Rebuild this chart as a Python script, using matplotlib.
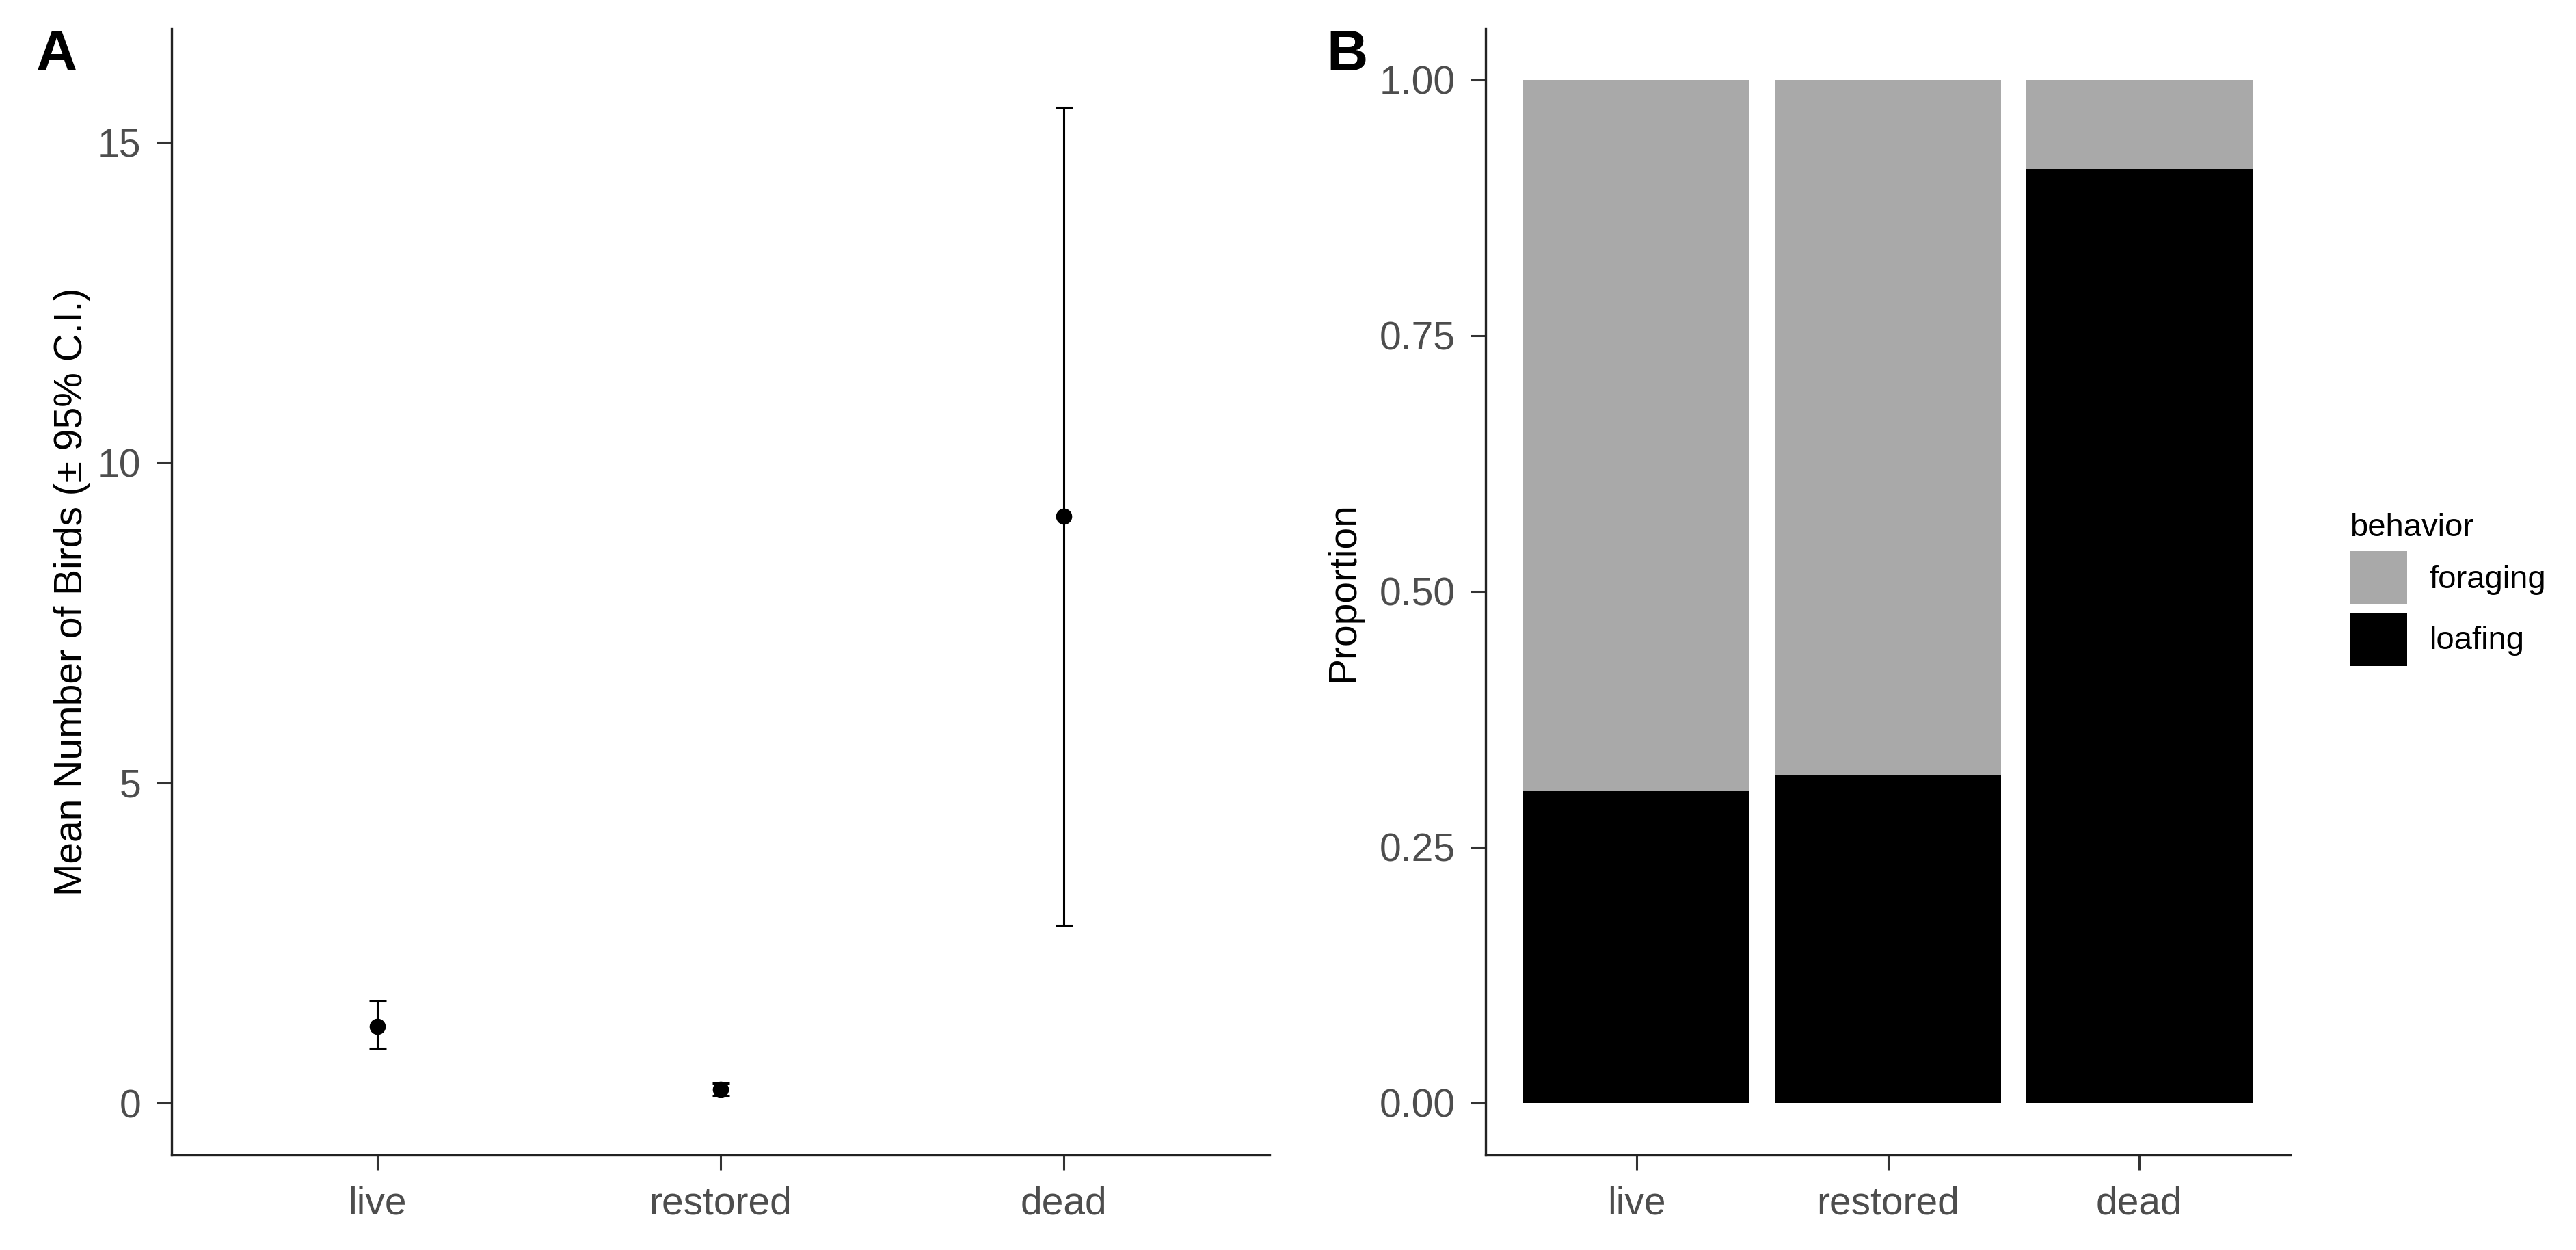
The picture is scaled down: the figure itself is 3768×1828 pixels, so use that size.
import matplotlib
matplotlib.use("Agg")
import matplotlib.pyplot as plt
from matplotlib.patches import Patch
import numpy as np

plt.rcParams['font.family'] = ['Liberation Sans', 'DejaVu Sans']

# data
habitats = ['live', 'restored', 'dead']
mean_birds = [1.20, 0.22, 9.16]
ci_low = [0.86, 0.12, 2.78]
ci_high = [1.59, 0.31, 15.54]

behaviors = ['foraging', 'loafing']
loafing_prop = [0.305, 0.321, 0.913]
foraging_prop = [1 - p for p in loafing_prop]

behavior_colors = {'foraging': '#A9A9A9', 'loafing': '#000000'}

fig = plt.figure(figsize=(37.68, 18.28), dpi=100)

tick_col = '#4D4D4D'
tick_fs = 41


def style_axes(ax):
    for side in ['top', 'right']:
        ax.spines[side].set_visible(False)
    for side in ['left', 'bottom']:
        ax.spines[side].set_linewidth(2.4)
        ax.spines[side].set_color('#222222')
    ax.tick_params(axis='both', length=16, width=2.2, color='#333333',
                   pad=16, labelsize=tick_fs, labelcolor=tick_col)


# panel A: mean number of birds
axA = fig.add_axes([0.0666, 0.0760, 0.4262, 0.9010])
x = np.arange(1, len(habitats) + 1)
yerr = [np.array(mean_birds) - np.array(ci_low), np.array(ci_high) - np.array(mean_birds)]
axA.errorbar(x, mean_birds, yerr=yerr, fmt='o', color='black', markersize=16,
             elinewidth=2.2, capsize=9, capthick=2.2)
axA.set_xlim(0.4, 3.6)
axA.set_ylim(-0.81, 16.77)
axA.set_xticks(x)
axA.set_xticklabels(habitats)
axA.set_yticks([0, 5, 10, 15])
axA.set_ylabel('Mean Number of Birds (± 95% C.I.)', fontsize=41, labelpad=8)
style_axes(axA)

# panel B: proportion of behaviors
axB = fig.add_axes([0.5767, 0.0760, 0.3124, 0.9010])
axB.bar(x, loafing_prop, width=0.9, color=behavior_colors['loafing'])
axB.bar(x, foraging_prop, width=0.9, bottom=loafing_prop, color=behavior_colors['foraging'])
axB.set_xlim(0.4, 3.6)
axB.set_ylim(-0.051, 1.05)
axB.set_xticks(x)
axB.set_xticklabels(habitats)
axB.set_yticks([0, 0.25, 0.5, 0.75, 1.0])
axB.set_yticklabels(['0.00', '0.25', '0.50', '0.75', '1.00'])
axB.set_ylabel('Proportion', fontsize=41, labelpad=18)
style_axes(axB)

handles = [Patch(facecolor=behavior_colors[b], edgecolor='none') for b in behaviors]
leg = fig.legend(handles, behaviors, title='behavior', loc='upper left',
                 bbox_to_anchor=(3437 / 3768, 1 - 750 / 1828), frameon=False,
                 fontsize=34, title_fontsize=34, handlelength=1.77, handleheight=2.165,
                 labelspacing=0.25, handletextpad=0.7, borderpad=0, borderaxespad=0)
leg._legend_box.align = 'left'

fig.text(53 / 3768, 1 - 103 / 1828, 'A', fontsize=60, fontweight='bold', ha='left', va='baseline')
fig.text(1940 / 3768, 1 - 103 / 1828, 'B', fontsize=60, fontweight='bold', ha='left', va='baseline')

fig.savefig('out.png', dpi=100)
